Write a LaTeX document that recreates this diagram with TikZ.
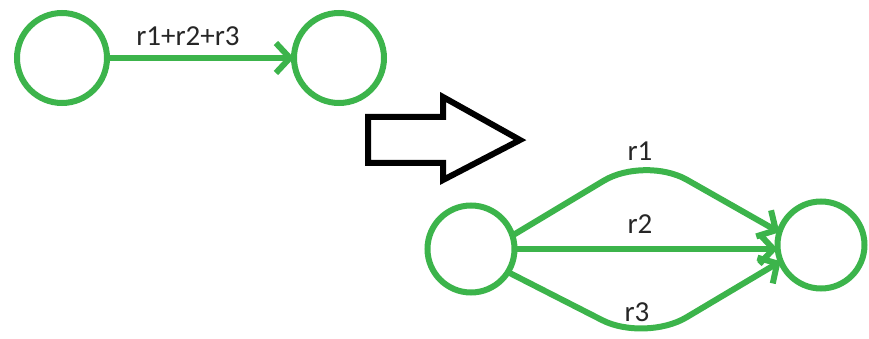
\documentclass[tikz,border=0pt]{standalone}
\usepackage{fontspec}
\setmainfont{Carlito}
\usetikzlibrary{arrows.meta}
\definecolor{FlowGreen}{RGB}{60,180,75}
\tikzset{
	st/.style={circle,draw=FlowGreen,line width=3pt,fill=white,inner sep=0pt,outer sep=0pt,minimum size=45pt},
	flow/.style={draw=FlowGreen,line width=3pt,-{Straight Barb[length=7pt,width=15pt]}},
	rate/.style={font=\fontsize{14.5}{16}\selectfont,text=black!85},
}

\begin{document}
\begin{tikzpicture}[x=0.5pt,y=0.5pt]
	\useasboundingbox (0,0) rectangle (869,338);
	% before: one edge carrying the sum
	\node[st] (a) at (62,280) {};
	\node[st] (b) at (339,280) {};
	\draw[flow] (a) -- (b);
	\node[rate] (sum) at (188,302) {r1+r2+r3};
	% the big hollow arrow
	\draw[line width=3pt,line join=miter,fill=white] (368,221) -- (443,221) -- (443,241) -- (520,198)
		-- (443,158) -- (443,175) -- (368,175) -- cycle;
	% after: three parallel edges
	\node[st,minimum size=43.5pt] (l) at (471,89) {};
	\node[st,minimum size=43.5pt] (r) at (821,93) {};
	\coordinate (pk1) at (645,182);
	\coordinate (pk3) at (645,-4);
	\draw[flow,rounded corners=24pt] (l.18) -- (pk1) -- (r.163);
	\draw[flow] (l.east) -- (r.west |- l.east);
	\draw[flow,rounded corners=24pt] (l.-32) -- (pk3) -- (r.-158);
	\node[rate] (r1) at (640,187) {r1};
	\node[rate] (r2) at (640,114) {r2};
	\node[rate] (r3) at (637,26) {r3};
\end{tikzpicture}
\end{document}
